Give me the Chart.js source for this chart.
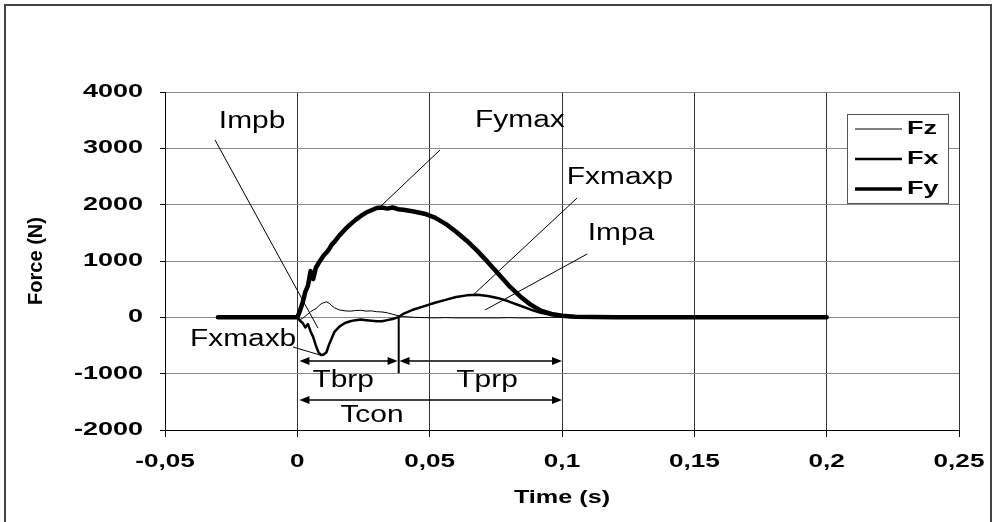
<!DOCTYPE html>
<html>
<head>
<meta charset="utf-8">
<script src="https://cdn.jsdelivr.net/npm/chart.js@4.4.1/dist/chart.umd.min.js"></script>
<style>
  html, body { margin: 0; padding: 0; background: #fff; }
  #chart { display: block; }
</style>
</head>
<body>
<canvas id="chart" width="995" height="522"></canvas>
<script>
// time (s) and forces (N)
const timeS = [-0.03, 0, 0.001, 0.002, 0.003, 0.004, 0.005, 0.006, 0.007, 0.008,
  0.009, 0.010, 0.011, 0.012, 0.013, 0.014, 0.016, 0.018, 0.020, 0.022,
  0.024, 0.026, 0.028, 0.030, 0.032, 0.034, 0.036, 0.038, 0.040, 0.044,
  0.048, 0.052, 0.056, 0.060, 0.064, 0.068, 0.072, 0.076, 0.080, 0.084,
  0.088, 0.092, 0.096, 0.100, 0.105, 0.12, 0.14, 0.16, 0.18, 0.2];

const fzForce = [0, 0, -40, -20, 20, 60, 100, 130, 150, 200,
  240, 260, 275, 250, 210, 170, 130, 115, 110, 120,
  125, 110, 115, 100, 95, 80, 55, 30, 15, 0,
  -5, -10, -5, -10, -10, -10, -10, -10, -5, -10,
  -10, -5, 0, 0, 0, 0, 0, 0, 0, 0];

const fxForce = [0, 0, -60, -100, -180, -120, -250, -350, -500, -620,
  -670, -660, -620, -480, -370, -260, -160, -100, -70, -50,
  -40, -50, -60, -70, -70, -50, -30, 0, 60, 140,
  200, 260, 310, 360, 390, 400, 380, 340, 280, 210,
  140, 80, 40, 15, 0, 0, 0, 0, 0, 0];

const fyForce = [0, 0, 120, 260, 450, 560, 820, 680, 880, 960,
  1030, 1100, 1150, 1210, 1290, 1340, 1460, 1560, 1650, 1730,
  1800, 1860, 1900, 1940, 1950, 1930, 1950, 1920, 1910, 1880,
  1840, 1770, 1660, 1520, 1360, 1180, 980, 770, 560, 380,
  230, 120, 60, 30, 10, 0, 0, 0, 0, 0];

const seriesNames = ["Fz", "Fx", "Fy"];

// axes
const xTickValues = [-0.05, 0, 0.05, 0.1, 0.15, 0.2, 0.25];
const xTickLabels = ["-0,05", "0", "0,05", "0,1", "0,15", "0,2", "0,25"];
const yTickValues = [-2000, -1000, 0, 1000, 2000, 3000, 4000];
const yTickLabels = ["-2000", "-1000", "0", "1000", "2000", "3000", "4000"];
const xTitle = "Time (s)";
const yTitle = "Force (N)";

// annotation texts (data position of the text centre)
const noteText = ["Impb", "Fymax", "Fxmaxp", "Impa", "Fxmaxb", "Tbrp", "Tprp", "Tcon"];
const noteTime = [-0.0171, 0.0841, 0.1219, 0.1223, -0.0205, 0.0173, 0.0717, 0.0282];
const noteForce = [3467, 3483, 2473, 1479, -403, -1131, -1131, -1752];

// pointer lines: [t1, f1, t2, f2]
const pointerLines = [
  [-0.0311, 3148, 0.0078, -190],   // Impb
  [0.0539, 2970, 0.0312, 1958],    // Fymax
  [0.1057, 2118, 0.0664, 396],     // Fxmaxp
  [0.1095, 1124, 0.0709, 130],     // Impa
  [-0.0016, -527, 0.0086, -669],   // Fxmaxb
];

// phase arrows: [tStart, tEnd, force]
const phaseArrows = [
  [0.0008, 0.0379, -776],  // Tbrp
  [0.0386, 0.1, -776],     // Tprp
  [0.0008, 0.1, -1468],    // Tcon
];
const phaseSplitTime = 0.0383;
const phaseSplitForce = [0, -990];

const FONT = '"Liberation Sans", Arial, sans-serif';

// texte étiré horizontalement
function stretchText(ctx, text, x, y, font, sx, align) {
  ctx.save();
  ctx.font = font;
  ctx.translate(x, y);
  ctx.scale(sx, 1);
  ctx.textAlign = align;
  ctx.textBaseline = "middle";
  ctx.fillStyle = "#000";
  ctx.fillText(text, 0, 0);
  ctx.restore();
}

function arrowHead(ctx, x, y, dir) {
  ctx.beginPath();
  ctx.moveTo(x, y);
  ctx.lineTo(x - dir * 10, y - 4);
  ctx.lineTo(x - dir * 10, y + 4);
  ctx.closePath();
  ctx.fill();
}

const refPlugin = {
  id: "reference",
  beforeDraw(chart) {
    const ctx = chart.ctx;
    ctx.save();
    ctx.fillStyle = "#fff";
    ctx.fillRect(0, 0, chart.width, chart.height);
    // cadre extérieur
    ctx.strokeStyle = "#444";
    ctx.lineWidth = 2;
    ctx.beginPath();
    ctx.moveTo(5, chart.height + 5);
    ctx.lineTo(5, 5);
    ctx.lineTo(991, 5);
    ctx.lineTo(991, chart.height + 5);
    ctx.stroke();
    ctx.restore();
  },
  afterDraw(chart) {
    const ctx = chart.ctx;
    const xs = chart.scales.x;
    const ys = chart.scales.y;
    const area = chart.chartArea;

    // tick labels
    xTickValues.forEach((v, i) => {
      stretchText(ctx, xTickLabels[i], xs.getPixelForValue(v), area.bottom + 32,
        "bold 18px " + FONT, 1.45, "center");
    });
    yTickValues.forEach((v, i) => {
      stretchText(ctx, yTickLabels[i], area.left - 22, ys.getPixelForValue(v),
        "bold 18px " + FONT, 1.5, "right");
    });

    // axis titles
    stretchText(ctx, xTitle, (area.left + area.right) / 2, area.bottom + 68,
      "bold 18px " + FONT, 1.4, "center");
    ctx.save();
    ctx.translate(36, (area.top + area.bottom) / 2);
    ctx.rotate(-Math.PI / 2);
    ctx.font = "bold 20px " + FONT;
    ctx.textAlign = "center";
    ctx.textBaseline = "middle";
    ctx.fillStyle = "#000";
    ctx.fillText(yTitle, 0, 0);
    ctx.restore();

    // annotations
    ctx.save();
    ctx.strokeStyle = "#000";
    ctx.fillStyle = "#000";
    ctx.lineWidth = 1;
    pointerLines.forEach(([t1, f1, t2, f2]) => {
      ctx.beginPath();
      ctx.moveTo(xs.getPixelForValue(t1), ys.getPixelForValue(f1));
      ctx.lineTo(xs.getPixelForValue(t2), ys.getPixelForValue(f2));
      ctx.stroke();
    });
    ctx.lineWidth = 1.5;
    phaseArrows.forEach(([t1, t2, f]) => {
      const x1 = xs.getPixelForValue(t1);
      const x2 = xs.getPixelForValue(t2);
      const y = ys.getPixelForValue(f);
      ctx.beginPath();
      ctx.moveTo(x1 + 4, y);
      ctx.lineTo(x2 - 4, y);
      ctx.stroke();
      arrowHead(ctx, x1, y, -1);
      arrowHead(ctx, x2, y, 1);
    });
    ctx.lineWidth = 2;
    ctx.beginPath();
    ctx.moveTo(xs.getPixelForValue(phaseSplitTime), ys.getPixelForValue(phaseSplitForce[0]));
    ctx.lineTo(xs.getPixelForValue(phaseSplitTime), ys.getPixelForValue(phaseSplitForce[1]));
    ctx.stroke();
    ctx.restore();

    noteText.forEach((txt, i) => {
      stretchText(ctx, txt, xs.getPixelForValue(noteTime[i]), ys.getPixelForValue(noteForce[i]),
        "23px " + FONT, 1.3, "center");
    });

    // légende
    const box = { left: 847, top: 114, right: 948, bottom: 203 };
    ctx.save();
    ctx.fillStyle = "#fff";
    ctx.fillRect(box.left, box.top, box.right - box.left, box.bottom - box.top);
    ctx.strokeStyle = "#555";
    ctx.lineWidth = 1;
    ctx.strokeRect(box.left + 0.5, box.top + 0.5, box.right - box.left, box.bottom - box.top);
    const rowY = [129, 159, 189];
    chart.data.datasets.forEach((ds) => {
      const row = seriesNames.indexOf(ds.label);
      ctx.strokeStyle = "#000";
      ctx.lineWidth = Math.min(ds.borderWidth, 3.5);
      ctx.beginPath();
      ctx.moveTo(855, rowY[row]);
      ctx.lineTo(902, rowY[row]);
      ctx.stroke();
      stretchText(ctx, ds.label, 907, rowY[row], "bold 18px " + FONT, 1.5, "left");
    });
    ctx.restore();
  },
};

function toPoints(values) {
  return timeS.map((t, i) => ({ x: t, y: values[i] }));
}

new Chart(document.getElementById("chart"), {
  type: "line",
  data: {
    datasets: [
      { label: seriesNames[2], data: toPoints(fyForce), borderColor: "#000", borderWidth: 4.5, order: 0 },
      { label: seriesNames[1], data: toPoints(fxForce), borderColor: "#000", borderWidth: 2.5, order: 1 },
      { label: seriesNames[0], data: toPoints(fzForce), borderColor: "#000", borderWidth: 1, order: 2 },
    ],
  },
  options: {
    responsive: false,
    animation: false,
    devicePixelRatio: 1,
    layout: { padding: { left: 0, top: 92, right: 36, bottom: 0 } },
    elements: {
      point: { radius: 0 },
      line: { tension: 0, borderJoinStyle: "round", borderCapStyle: "round" },
    },
    plugins: { legend: { display: false }, tooltip: { enabled: false } },
    scales: {
      x: {
        type: "linear",
        min: -0.05,
        max: 0.25,
        afterBuildTicks: (s) => { s.ticks = xTickValues.map((v) => ({ value: v })); },
        afterFit: (s) => { s.height = 92; },
        ticks: { display: false },
        grid: { color: "#333", lineWidth: 1, tickLength: 7, tickColor: "#000" },
        border: { color: "#000", width: 1 },
      },
      y: {
        min: -2000,
        max: 4000,
        afterBuildTicks: (s) => { s.ticks = yTickValues.map((v) => ({ value: v })); },
        afterFit: (s) => { s.width = 165; },
        ticks: { display: false },
        grid: { color: "#888", lineWidth: 1, tickLength: 5, tickColor: "#000" },
        border: { color: "#000", width: 1 },
      },
    },
  },
  plugins: [refPlugin],
});
</script>
</body>
</html>
